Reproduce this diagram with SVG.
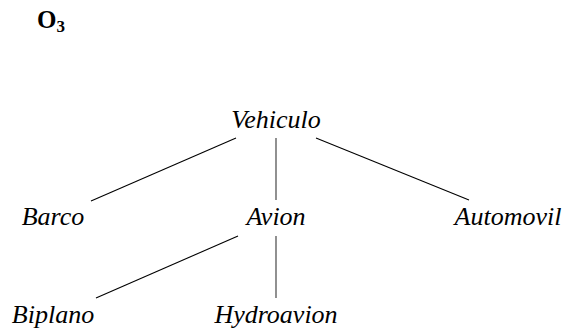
<svg xmlns="http://www.w3.org/2000/svg" width="565" height="331" viewBox="0 0 565 331">
<style>
.t{font-family:"Liberation Serif","Times New Roman",serif;font-style:italic;font-size:26px;fill:#000;text-anchor:middle}
.e{stroke:#000;stroke-width:1.1;fill:none}
.v{stroke:#555;stroke-width:1.3;fill:none}
</style>
<rect width="565" height="331" fill="#fff"/>
<text x="37" y="28" font-family="Liberation Serif, serif" font-weight="bold" font-size="25">O<tspan font-size="17" dy="4">3</tspan></text>
<g id="connectors">
<line class="e" x1="236" y1="138" x2="91" y2="201"/>
<line class="v" x1="276" y1="138" x2="276" y2="200"/>
<line class="e" x1="316" y1="138" x2="469" y2="200"/>
<line class="e" x1="238" y1="236" x2="96" y2="298"/>
<line class="v" x1="276" y1="236" x2="276" y2="298"/>
</g>
<g id="vehiculo"><text class="t" x="276" y="128">Vehiculo</text></g>
<g id="barco"><text class="t" x="53" y="225">Barco</text></g>
<g id="avion"><text class="t" x="276" y="225">Avion</text></g>
<g id="automovil"><text class="t" x="508" y="225">Automovil</text></g>
<g id="biplano"><text class="t" x="53" y="323">Biplano</text></g>
<g id="hydroavion"><text class="t" x="276" y="323">Hydroavion</text></g>
</svg>
